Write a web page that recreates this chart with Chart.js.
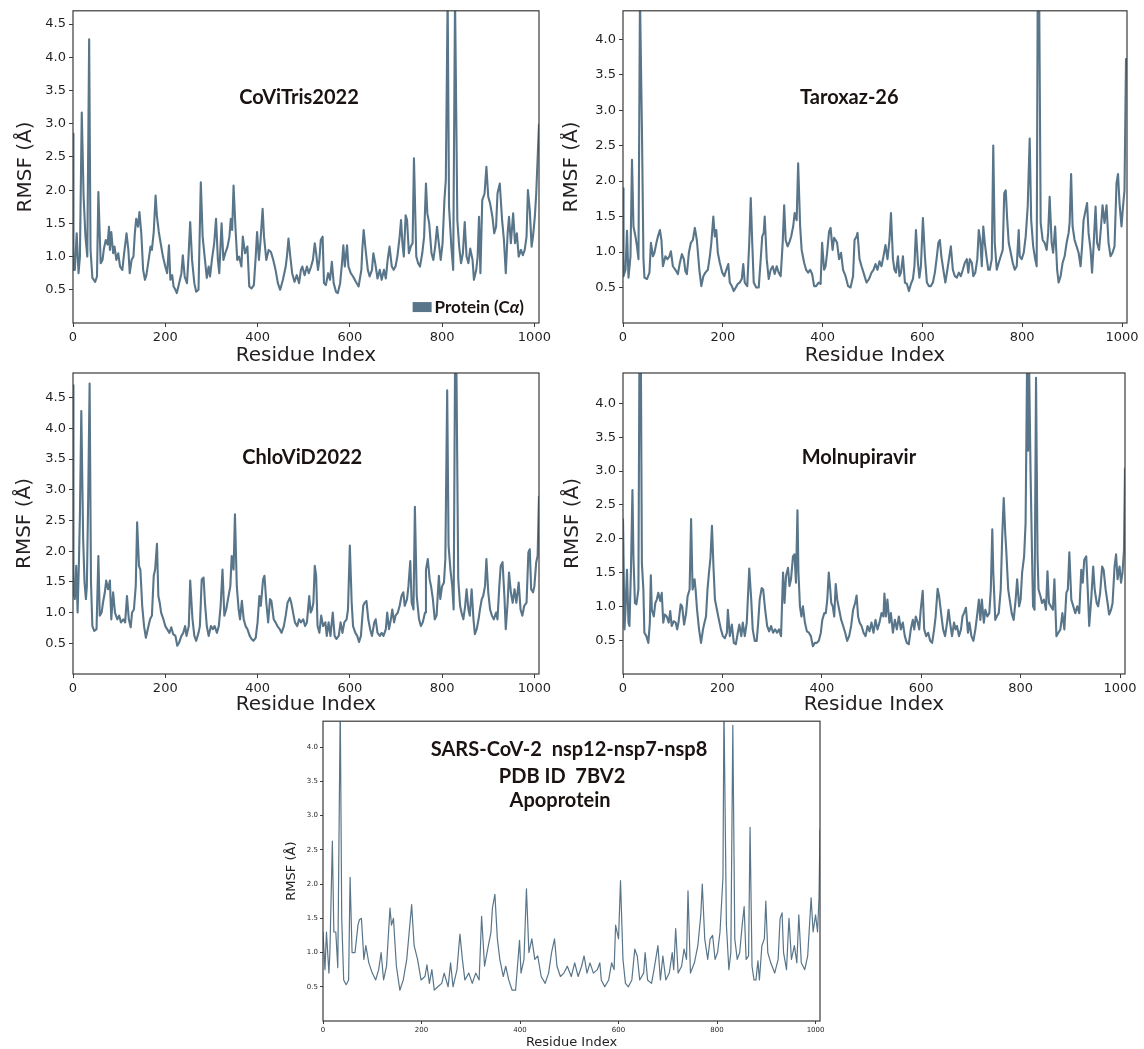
<!DOCTYPE html>
<html>
<head>
<meta charset="utf-8">
<script src="https://cdn.jsdelivr.net/npm/chart.js@4.4.0/dist/chart.umd.min.js"></script>
<style>
  body { margin: 0; background: #fff; }
  #wrap { position: relative; width: 1144px; height: 1049px; overflow: hidden; }
  canvas { position: absolute; }
</style>
</head>
<body>
<div id="wrap">
  <canvas id="c1" width="560" height="368" style="left:0;top:0"></canvas>
  <canvas id="c2" width="584" height="368" style="left:560px;top:0"></canvas>
  <canvas id="c3" width="560" height="355" style="left:0;top:362px"></canvas>
  <canvas id="c4" width="584" height="355" style="left:560px;top:362px"></canvas>
  <canvas id="c5" width="560" height="334" style="left:280px;top:715px"></canvas>
</div>
<script>
var xTicks = [0, 200, 400, 600, 800, 1000];
var yTicks = [0.5, 1.0, 1.5, 2.0, 2.5, 3.0, 3.5, 4.0, 4.5];

// RMSF per residue, [residue, RMSF in Angstrom]
var coviTris = [[0,2.85],[1,0.8],[4,0.8],[8,1.35],[12,0.75],[15,1.0],[19,3.17],[23,1.9],[27,1.3],[31,1.0],
  [35,4.27],[38,1.1],[42,0.68],[48,0.62],[52,0.7],[55,1.97],[60,0.9],[64,0.95],[67,1.12],[71,1.25],
  [75,1.18],[78,1.45],[80,1.1],[83,1.37],[87,1.05],[90,1.15],[94,0.95],[98,1.05],[102,0.85],[107,0.8],
  [110,1.0],[116,1.35],[120,1.1],[123,0.75],[127,0.95],[131,1.0],[134,1.35],[137,1.57],[141,1.45],[144,1.67],
  [148,1.35],[152,0.8],[156,0.65],[159,0.72],[164,0.95],[168,1.15],[171,1.1],[175,1.37],[179,1.92],[182,1.6],
  [186,1.37],[190,1.2],[195,1.0],[200,0.85],[204,0.75],[208,1.17],[211,0.65],[215,0.72],[218,0.55],[222,0.5],
  [225,0.45],[230,0.6],[235,0.75],[238,1.02],[242,0.7],[247,0.6],[250,0.95],[254,1.52],[258,0.95],[263,0.6],
  [267,0.47],[272,0.5],[277,2.12],[281,1.3],[286,0.95],[290,0.68],[294,0.85],[297,0.7],[301,0.95],[306,1.2],
  [310,1.57],[314,0.95],[317,0.75],[322,1.5],[326,0.95],[330,1.05],[335,1.15],[339,1.3],[342,1.57],[345,1.4],
  [348,2.07],[352,1.45],[356,0.95],[360,1.0],[365,0.85],[368,1.3],[373,1.05],[378,1.15],[382,0.55],[387,0.52],
  [392,0.57],[396,1.0],[399,1.37],[403,0.95],[406,1.2],[411,1.72],[414,1.3],[419,0.95],[424,1.1],[429,1.07],
  [434,0.95],[439,0.8],[444,0.6],[449,0.5],[455,0.65],[461,0.85],[464,1.02],[467,1.27],[471,1.0],[475,0.75],
  [480,0.62],[485,0.72],[490,0.6],[494,0.8],[497,0.85],[502,0.72],[507,0.85],[511,0.75],[516,0.85],[520,0.95],
  [524,1.2],[527,1.05],[531,0.8],[534,0.95],[537,1.25],[541,1.3],[544,0.6],[548,0.57],[553,0.75],[557,0.65],
  [561,0.92],[565,0.6],[570,0.47],[574,0.45],[579,0.6],[583,0.9],[586,1.17],[589,0.85],[594,1.17],[597,0.85],
  [602,0.75],[607,0.7],[613,0.62],[619,0.55],[625,0.8],[627,1.1],[630,1.4],[635,1.05],[639,0.8],[643,0.7],
  [648,0.8],[651,1.05],[655,0.9],[660,0.67],[665,0.8],[669,0.65],[674,0.8],[678,0.67],[682,0.95],[686,1.15],
  [691,0.85],[695,0.8],[699,0.85],[703,1.0],[708,1.3],[711,1.55],[714,1.2],[717,1.0],[721,1.62],[724,1.55],
  [728,1.05],[732,1.15],[736,1.2],[739,2.48],[744,1.0],[748,0.9],[752,0.85],[757,1.05],[761,1.3],[765,2.1],
  [768,1.65],[772,1.5],[777,1.05],[781,0.95],[785,1.15],[789,1.45],[792,1.25],[797,0.95],[801,1.2],[805,1.85],
  [808,2.15],[812,4.9],[815,1.75],[820,1.15],[824,0.8],[828,4.9],[833,1.55],[837,1.15],[841,0.9],[845,1.05],
  [849,1.52],[853,1.0],[857,0.9],[861,1.12],[866,0.95],[869,0.65],[874,0.8],[877,1.0],[880,1.6],[883,0.75],
  [887,1.85],[892,1.95],[896,2.35],[900,1.9],[904,1.8],[909,1.6],[913,1.35],[917,1.45],[920,1.95],[925,2.1],
  [930,1.55],[934,1.25],[938,0.75],[942,1.35],[945,1.6],[949,1.2],[954,1.65],[958,1.2],[962,1.35],[966,1.0],
  [971,1.1],[975,1.02],[979,1.1],[983,1.3],[986,2.0],[990,1.7],[994,1.15],[997,1.3],[1001,1.6],[1004,1.95],
  [1010,3.0]];

var taroxaz = [[0,1.9],[1,0.66],[5,0.75],[8,1.3],[11,0.64],[15,0.94],[18,2.3],[21,1.36],[25,1.22],[28,1.08],
  [31,0.9],[34,4.6],[38,2.7],[41,0.9],[43,0.64],[48,0.62],[53,0.71],[56,1.13],[60,0.94],[63,0.99],
  [67,1.13],[70,1.22],[74,1.31],[77,1.17],[80,0.8],[85,0.94],[89,0.9],[93,0.94],[96,1.01],[100,0.8],
  [105,0.75],[110,0.69],[114,0.85],[118,0.97],[122,0.9],[125,0.73],[128,0.69],[132,0.99],[136,1.13],[140,1.17],
  [144,1.34],[148,1.17],[153,0.75],[157,0.52],[161,0.66],[165,0.71],[170,0.75],[174,0.94],[177,1.13],[181,1.5],
  [184,1.22],[187,1.31],[190,0.99],[194,0.85],[199,0.71],[203,0.66],[207,0.75],[211,0.83],[214,0.57],[218,0.52],
  [222,0.45],[226,0.5],[230,0.55],[234,0.57],[238,0.62],[241,0.83],[244,0.57],[249,0.52],[253,1.13],[256,1.76],
  [259,1.13],[262,0.57],[267,0.5],[272,0.5],[276,0.9],[279,1.22],[282,1.27],[284,1.5],[288,0.9],[292,0.62],
  [296,0.75],[300,0.8],[304,0.69],[308,0.8],[312,0.71],[316,0.66],[320,1.13],[323,1.66],[326,1.17],[330,1.08],
  [334,1.15],[337,1.22],[341,1.36],[344,1.55],[348,1.45],[351,2.25],[355,1.36],[358,1.03],[363,0.85],[367,0.75],
  [371,0.71],[375,0.75],[379,0.69],[383,0.52],[387,0.52],[392,0.57],[396,0.55],[399,1.13],[403,0.75],[406,0.8],
  [409,0.99],[413,1.29],[416,1.34],[420,1.03],[423,1.2],[426,1.17],[429,1.13],[433,0.9],[437,0.99],[441,0.75],
  [446,0.66],[451,0.52],[456,0.5],[461,0.66],[464,1.17],[468,1.22],[470,1.27],[474,0.9],[478,0.8],[482,0.71],
  [485,0.64],[488,0.57],[493,0.62],[498,0.71],[502,0.75],[506,0.83],[510,0.75],[514,0.87],[518,0.8],[522,0.94],
  [526,1.1],[530,0.9],[534,1.17],[537,1.55],[541,0.9],[544,0.75],[547,0.71],[551,0.94],[554,0.66],[557,0.71],
  [561,0.94],[565,0.57],[569,0.55],[573,0.45],[577,0.55],[581,0.62],[584,0.8],[587,1.31],[591,0.85],[594,0.64],
  [597,0.8],[601,1.48],[605,0.94],[609,0.57],[613,0.52],[617,0.52],[621,0.57],[625,0.71],[629,0.94],[632,1.13],
  [635,1.17],[638,0.94],[642,0.75],[646,0.57],[650,0.75],[654,0.94],[657,1.08],[661,0.75],[665,0.66],[669,0.64],
  [673,0.71],[677,0.66],[681,0.75],[685,0.85],[689,0.9],[692,0.71],[695,0.9],[699,0.85],[702,0.66],[706,0.71],
  [710,0.9],[713,1.31],[716,1.17],[719,0.8],[722,1.36],[725,1.13],[729,0.9],[732,0.75],[735,0.75],[739,0.9],
  [742,2.5],[745,1.13],[749,0.75],[753,0.85],[757,0.94],[761,1.03],[764,1.83],[767,1.87],[770,1.45],[773,1.13],
  [777,0.99],[781,0.85],[785,0.75],[789,0.8],[793,1.31],[795,0.94],[799,0.9],[803,0.99],[807,1.22],[811,1.64],
  [815,2.6],[818,1.45],[822,1.08],[826,0.9],[829,0.8],[831,4.6],[834,4.6],[837,1.41],[841,1.17],[845,1.13],
  [849,1.03],[852,1.27],[855,1.78],[859,1.13],[862,0.99],[866,1.36],[870,0.75],[873,0.57],[877,0.66],[881,0.85],
  [885,0.94],[889,1.13],[893,1.27],[895,1.41],[898,2.1],[901,1.36],[905,1.17],[909,1.08],[913,0.99],[917,0.8],
  [920,1.08],[923,1.45],[927,1.59],[930,1.69],[933,1.27],[937,1.03],[940,0.71],[943,1.08],[947,1.64],[950,1.13],
  [954,1.03],[958,1.36],[961,1.66],[965,1.41],[969,1.66],[973,1.13],[977,0.94],[981,0.99],[985,1.08],[989,1.97],
  [992,2.1],[995,1.69],[999,1.36],[1002,1.64],[1005,1.87],[1008,3.72],[1010,3.72]];

var chloViD = [[0,4.7],[1,1.33],[4,1.22],[7,1.76],[10,1.0],[13,1.87],[15,2.6],[18,4.28],[22,2.2],[25,1.49],
  [28,1.22],[30,1.43],[33,2.9],[36,4.73],[39,1.49],[42,0.78],[46,0.7],[51,0.73],[55,1.92],[58,0.95],
  [62,1.0],[65,1.16],[69,1.33],[72,1.52],[76,1.38],[80,1.52],[83,0.89],[87,1.33],[91,1.0],[96,0.89],
  [100,0.95],[104,0.84],[109,0.89],[113,0.84],[117,1.27],[121,0.89],[125,0.76],[128,1.0],[132,1.05],[136,1.43],
  [139,2.47],[143,1.76],[146,1.7],[150,1.11],[154,0.78],[158,0.59],[162,0.73],[167,0.89],[171,0.95],[175,1.6],
  [178,1.7],[182,2.12],[185,1.27],[188,1.16],[191,1.0],[196,0.89],[200,0.78],[204,0.73],[209,0.67],[213,0.76],
  [217,0.65],[222,0.62],[226,0.46],[230,0.51],[235,0.62],[239,0.67],[243,0.78],[246,0.62],[251,0.78],[254,1.52],
  [259,0.89],[263,0.62],[267,0.54],[272,0.67],[275,0.78],[279,1.54],[283,1.57],[286,1.16],[290,0.78],[294,0.62],
  [299,0.78],[303,0.73],[307,0.78],[312,0.67],[316,0.78],[320,1.11],[324,1.7],[328,0.95],[332,1.05],[336,1.22],
  [341,1.43],[344,1.92],[348,1.7],[351,2.6],[355,1.43],[359,1.05],[362,0.89],[366,1.19],[370,0.89],[374,0.78],
  [378,0.73],[383,0.62],[387,0.57],[391,0.54],[396,0.59],[400,0.84],[404,1.27],[407,1.11],[412,1.54],[415,1.6],
  [419,1.16],[423,0.84],[427,1.22],[430,1.19],[435,0.89],[439,0.84],[443,0.78],[448,0.73],[452,0.67],[457,0.78],
  [461,0.95],[465,1.16],[470,1.24],[473,1.16],[477,1.0],[481,0.84],[486,0.78],[490,0.89],[494,0.84],[499,0.89],
  [503,0.78],[507,0.84],[512,1.27],[515,1.0],[518,1.05],[521,1.16],[524,1.76],[527,1.6],[530,0.78],[534,0.67],
  [538,0.95],[542,0.78],[547,0.84],[550,0.62],[554,0.84],[558,0.62],[563,1.0],[567,0.62],[571,0.57],[576,0.62],
  [580,0.84],[584,0.67],[588,0.84],[593,0.89],[596,1.05],[600,2.09],[604,1.16],[607,0.78],[612,0.67],[616,0.62],
  [620,0.52],[624,0.62],[629,1.11],[632,1.16],[636,1.19],[640,0.89],[644,0.73],[648,0.62],[653,0.84],[656,0.89],
  [660,0.67],[665,0.62],[669,0.67],[673,0.62],[678,0.73],[681,1.0],[685,0.73],[689,0.89],[692,1.05],[696,0.84],
  [699,0.95],[704,1.0],[708,1.11],[712,1.27],[716,1.33],[719,1.11],[724,1.22],[727,1.43],[731,1.84],[734,1.16],
  [738,1.05],[741,2.72],[745,1.27],[750,0.89],[754,0.78],[758,0.84],[763,1.0],[765,1.7],[769,1.87],[773,1.54],
  [776,1.43],[780,1.22],[784,0.89],[788,0.95],[793,1.6],[796,1.22],[800,1.43],[804,1.49],[807,1.87],[811,4.62],
  [814,2.09],[818,1.7],[822,1.43],[825,1.05],[828,5.0],[831,5.0],[835,1.54],[839,1.11],[842,1.0],[846,0.89],
  [850,1.11],[853,1.38],[857,1.05],[860,0.95],[864,1.38],[868,0.89],[871,0.65],[875,0.73],[879,0.89],[882,1.05],
  [886,1.22],[889,1.27],[893,1.43],[896,1.87],[900,1.33],[904,1.05],[908,0.95],[912,0.89],[917,1.0],[920,0.89],
  [924,1.43],[927,1.76],[931,1.82],[935,1.27],[938,0.73],[942,1.16],[945,1.65],[949,1.33],[953,1.16],[957,1.38],
  [961,1.16],[966,1.49],[970,1.05],[974,0.95],[978,1.11],[983,1.16],[987,1.98],[990,2.03],[993,1.38],[997,1.33],
  [1000,1.43],[1004,1.82],[1007,1.92],[1010,2.9]];

var molnupiravir = [[0,2.3],[3,0.66],[5,0.95],[8,1.54],[11,0.76],[13,0.71],[16,1.54],[19,2.72],[21,1.74],[24,1.05],
  [27,1.03],[31,1.25],[33,4.6],[36,4.6],[38,1.64],[41,1.25],[43,0.61],[47,0.56],[51,0.46],[54,0.76],
  [56,1.46],[58,0.95],[62,0.85],[65,1.05],[68,1.1],[71,1.2],[75,1.08],[78,1.2],[81,0.76],[84,0.88],
  [88,0.85],[92,0.76],[95,0.93],[98,0.71],[102,0.78],[106,0.76],[109,0.66],[112,0.78],[116,1.03],[119,1.0],
  [123,0.73],[127,0.9],[130,1.15],[134,1.25],[137,2.29],[140,1.25],[144,1.4],[146,1.25],[149,0.95],[153,0.66],
  [157,0.46],[161,0.66],[164,0.76],[167,0.85],[170,1.25],[173,1.5],[176,1.72],[179,2.19],[182,1.59],[185,1.1],
  [189,0.95],[193,0.8],[197,0.66],[201,0.56],[205,0.53],[209,0.61],[211,0.95],[215,0.56],[219,0.73],[223,0.46],
  [227,0.44],[231,0.61],[234,0.73],[238,0.56],[241,0.76],[245,0.56],[249,0.76],[254,1.56],[258,1.1],[261,0.66],
  [265,0.49],[269,0.49],[272,0.76],[275,1.1],[279,1.27],[282,1.25],[286,0.95],[290,0.71],[294,0.63],[298,0.71],
  [302,0.61],[306,0.66],[310,0.61],[314,0.66],[318,0.56],[322,1.5],[325,1.05],[328,1.45],[332,1.57],[335,1.3],
  [338,1.4],[342,1.74],[345,1.77],[348,1.35],[351,2.42],[353,1.5],[356,1.0],[359,0.85],[362,1.0],[366,0.76],
  [370,0.63],[374,0.61],[378,0.56],[382,0.41],[386,0.46],[390,0.46],[394,0.49],[398,0.61],[401,0.8],[405,0.9],
  [408,0.9],[411,1.1],[414,1.5],[417,1.25],[419,1.05],[422,1.0],[425,0.85],[428,1.33],[431,1.1],[435,0.95],
  [439,0.8],[443,0.71],[447,0.61],[451,0.49],[455,0.56],[459,0.71],[463,0.95],[467,1.05],[470,1.16],[473,0.85],
  [476,0.76],[480,0.71],[484,0.61],[488,0.56],[492,0.71],[496,0.63],[500,0.76],[504,0.61],[508,0.8],[512,0.66],
  [516,0.76],[520,0.9],[524,0.85],[526,1.19],[529,0.85],[532,1.1],[536,0.76],[539,0.9],[543,0.61],[547,0.8],
  [551,0.66],[555,0.85],[559,0.66],[563,0.76],[567,0.56],[571,0.46],[575,0.44],[579,0.66],[583,0.8],[586,0.66],
  [589,0.85],[593,0.76],[596,0.66],[599,0.95],[603,1.23],[606,0.66],[610,0.56],[614,0.61],[618,0.49],[622,0.46],
  [626,0.66],[629,0.85],[633,1.26],[636,1.15],[640,0.9],[644,0.66],[648,0.56],[652,0.76],[655,0.95],[658,0.76],
  [662,0.56],[666,0.76],[669,0.66],[672,0.71],[676,0.56],[680,0.66],[683,0.85],[686,0.9],[690,0.98],[694,0.61],
  [697,0.76],[701,0.56],[705,0.49],[709,0.66],[713,0.9],[716,1.1],[719,0.8],[722,1.1],[726,0.76],[729,0.95],
  [733,0.85],[737,0.9],[740,1.25],[743,2.14],[745,1.5],[749,0.8],[752,0.85],[756,0.9],[760,1.25],[763,2.04],
  [766,2.6],[769,2.09],[771,1.84],[775,1.25],[778,1.1],[782,0.9],[786,0.8],[790,1.1],[793,1.4],[797,1.0],
  [800,1.1],[803,1.5],[807,1.74],[810,2.23],[813,4.6],[815,3.3],[817,4.6],[820,2.98],[823,1.74],[825,1.0],
  [828,0.95],[831,4.38],[834,1.74],[836,1.25],[840,1.15],[843,1.05],[847,1.1],[851,0.95],[854,1.52],[857,1.05],
  [861,1.0],[865,0.95],[868,1.4],[872,0.56],[876,0.61],[880,0.66],[884,0.9],[888,0.66],[892,1.2],[895,1.25],
  [898,1.8],[902,1.1],[906,1.0],[910,0.9],[914,1.0],[918,0.9],[922,1.54],[925,1.35],[928,1.69],[932,1.74],
  [935,1.25],[938,0.71],[942,1.1],[946,1.59],[949,1.25],[953,1.05],[956,1.0],[960,1.2],[964,1.59],[967,1.54],
  [971,1.25],[975,1.05],[978,0.88],[982,0.95],[985,1.05],[989,1.59],[992,1.77],[995,1.4],[999,1.59],[1002,1.35],
  [1005,1.5],[1008,1.84],[1010,3.05]];

var apoprotein = [[0,1.3],[4,0.75],[7,1.3],[12,0.7],[14,1.0],[19,2.63],[22,1.3],[26,1.3],[30,0.78],[35,4.6],
  [38,1.5],[42,0.6],[47,0.53],[52,0.6],[55,2.1],[59,1.0],[65,1.0],[71,1.4],[74,1.48],[78,1.5],
  [83,0.9],[87,1.1],[93,0.85],[100,0.7],[107,0.6],[113,0.75],[118,1.0],[123,0.6],[129,0.8],[136,1.65],
  [139,1.4],[143,1.5],[149,0.8],[156,0.45],[163,0.6],[170,0.9],[175,1.3],[180,1.7],[185,1.1],[192,0.9],
  [199,0.6],[207,0.65],[211,0.82],[216,0.55],[221,0.75],[226,0.45],[233,0.5],[241,0.55],[246,0.7],[254,0.5],
  [259,0.85],[264,0.5],[272,0.75],[278,1.27],[283,0.9],[288,0.6],[296,0.7],[303,0.55],[310,0.7],[317,0.6],
  [322,1.53],[328,0.8],[333,1.0],[341,1.3],[344,1.65],[349,1.85],[354,1.2],[359,0.9],[366,0.65],[371,0.8],
  [377,0.6],[384,0.45],[391,0.45],[399,1.18],[402,0.7],[408,0.9],[413,1.93],[418,1.0],[424,1.2],[430,0.9],
  [436,0.95],[443,0.65],[451,0.55],[458,0.7],[464,1.0],[470,1.2],[475,0.8],[482,0.65],[489,0.7],[496,0.8],
  [504,0.65],[511,0.85],[518,0.65],[525,0.8],[530,0.95],[536,0.7],[542,0.85],[549,0.7],[557,0.75],[562,0.85],
  [565,0.6],[572,0.5],[580,0.6],[586,0.85],[591,0.75],[594,1.4],[600,1.2],[604,2.05],[609,0.9],[614,0.55],
  [620,0.5],[627,0.6],[633,1.05],[638,0.95],[643,0.6],[651,0.7],[654,1.0],[659,0.6],[667,0.55],[672,0.75],
  [680,1.1],[685,0.6],[690,0.95],[696,0.6],[703,0.7],[709,1.0],[712,0.75],[716,1.35],[721,0.7],[728,0.8],
  [733,1.05],[738,0.9],[741,1.9],[746,0.7],[754,0.85],[761,1.1],[767,1.55],[770,2.0],[775,1.2],[781,0.9],
  [786,1.2],[791,1.25],[796,0.9],[801,1.0],[806,1.3],[812,2.1],[814,4.6],[819,1.4],[824,0.75],[828,1.0],
  [832,4.32],[836,1.2],[841,0.9],[846,1.0],[851,1.4],[855,1.67],[859,0.9],[864,0.95],[867,2.83],[871,0.8],
  [875,0.6],[879,0.6],[883,0.88],[886,0.6],[891,1.1],[896,1.2],[899,1.75],[903,1.0],[909,0.85],[917,0.7],
  [924,0.9],[928,1.5],[932,1.58],[935,1.0],[941,0.75],[946,1.5],[951,0.9],[957,1.1],[962,0.85],[966,1.55],
  [971,0.85],[978,0.75],[984,0.95],[991,1.8],[995,1.3],[1000,1.55],[1004,1.3],[1007,1.8],[1009,2.8]];

var lineColor = '#587589';
var inkColor = '#1b1212';

// box round the plot, titles written inside it, and the one legend
var framePlugin = {
  id: 'frame',
  afterDatasetsDraw: function (chart, args, o) {
    var a = chart.chartArea, ctx = chart.ctx;
    var w = a.right - a.left, h = a.bottom - a.top;
    ctx.save();
    ctx.strokeStyle = '#3d3a3a';
    ctx.lineWidth = o.frameWidth;
    ctx.strokeRect(a.left, a.top, w, h);
    ctx.fillStyle = inkColor;
    ctx.font = 'bold ' + o.size + 'px Lato';
    ctx.textAlign = 'center';
    ctx.textBaseline = 'middle';
    o.lines.forEach(function (l) {
      ctx.fillText(l[0], a.left + l[1] * w, a.top + l[2] * h);
    });
    if (o.legend) {
      var lab = chart.data.datasets[0].label;
      var parts = lab.split('α');
      var tx = a.left + o.legend[0] * w, ty = a.top + o.legend[1] * h;
      ctx.fillStyle = lineColor;
      ctx.fillRect(tx - 22, ty - 5, 19, 10);
      ctx.fillStyle = inkColor;
      ctx.textAlign = 'left';
      ctx.font = 'bold 17px Lato';
      ctx.fillText(parts[0], tx, ty);
      var x2 = tx + ctx.measureText(parts[0]).width;
      ctx.font = 'italic bold 17px Lato';
      ctx.fillText('α', x2, ty);
      x2 += ctx.measureText('α').width;
      ctx.font = 'bold 17px Lato';
      ctx.fillText(parts[1], x2, ty);
    }
    ctx.restore();
  }
};

function panel(id, pts, c) {
  return new Chart(document.getElementById(id).getContext('2d'), {
    type: 'line',
    data: {
      datasets: [{
        label: c.label || '',
        data: pts.map(function (p) { return { x: p[0], y: p[1] }; }),
        borderColor: lineColor,
        borderWidth: c.lw,
        borderJoinStyle: 'round',
        pointRadius: 0,
        tension: 0,
        fill: false
      }]
    },
    options: {
      responsive: false,
      animation: false,
      events: [],
      layout: { padding: { top: c.top, right: c.right, bottom: 0, left: 0 } },
      plugins: {
        legend: { display: false },
        tooltip: { enabled: false },
        frame: { frameWidth: c.fw, size: c.titleSize, lines: c.lines, legend: c.legend || null }
      },
      scales: {
        x: {
          type: 'linear', min: 0, max: c.xMax,
          afterBuildTicks: function (s) { s.ticks = xTicks.map(function (v) { return { value: v }; }); },
          ticks: { autoSkip: false, maxRotation: 0, color: '#231f20', padding: c.tp,
                   font: { family: 'DejaVu Sans', size: c.tick },
                   callback: function (v) { return String(v); } },
          grid: { drawOnChartArea: false, tickLength: c.tl, color: '#3d3a3a' },
          border: { display: false },
          title: { display: true, text: 'Residue Index', color: '#231f20',
                   font: { family: 'DejaVu Sans', size: c.axis, lineHeight: 1 },
                   padding: { top: 0, bottom: c.xtp } },
          afterFit: function (s) { s.height = c.xh; }
        },
        y: {
          type: 'linear', min: 0, max: c.yMax,
          afterBuildTicks: function (s) {
            s.ticks = yTicks.filter(function (v) { return v <= c.yMax; }).map(function (v) { return { value: v }; });
          },
          ticks: { autoSkip: false, color: '#231f20', padding: c.tp,
                   font: { family: 'DejaVu Sans', size: c.tick },
                   callback: function (v) { return v.toFixed(1); } },
          grid: { drawOnChartArea: false, tickLength: c.tl, color: '#3d3a3a' },
          border: { display: false },
          title: { display: true, text: 'RMSF (Å)', color: '#231f20',
                   font: { family: 'DejaVu Sans', size: c.axis, lineHeight: 1 },
                   padding: { top: c.ytp, bottom: 0 } },
          afterFit: function (s) { s.width = c.yw; }
        }
      }
    },
    plugins: [framePlugin]
  });
}

var big = { lw: 2.1, fw: 1.2, tick: 13, axis: 20, tl: 4, tp: 3, titleSize: 20, xtp: 2 };
function merge(a, b) { var r = {}; for (var k in a) r[k] = a[k]; for (var k2 in b) r[k2] = b[k2]; return r; }

panel('c1', coviTris, merge(big, { top: 10, right: 21, yw: 73, xh: 45, ytp: 16, xMax: 1010, yMax: 4.7,
  label: 'Protein (Cα)', lines: [['CoViTris2022', 0.485, 0.278]], legend: [0.776, 0.949] }));
panel('c2', taroxaz, merge(big, { top: 10, right: 17, yw: 63, xh: 45, ytp: 2, xMax: 1010, yMax: 4.4,
  lines: [['Taroxaz-26', 0.449, 0.278]] }));
panel('c3', chloViD, merge(big, { top: 11, right: 21, yw: 73, xh: 43, ytp: 15, xMax: 1010, yMax: 4.9,
  lines: [['ChloViD2022', 0.492, 0.28]] }));
panel('c4', molnupiravir, merge(big, { top: 11, right: 19, yw: 63, xh: 43, ytp: 3, xMax: 1010, yMax: 4.45,
  lines: [['Molnupiravir', 0.47, 0.28]] }));
panel('c5', apoprotein, { lw: 1.2, fw: 1.2, tick: 7, axis: 13, tl: 3, tp: 2, titleSize: 20, xtp: 0,
  top: 5, right: 20, yw: 43, xh: 28, ytp: 5.5, xMax: 1009, yMax: 4.38,
  lines: [['SARS-CoV-2  nsp12-nsp7-nsp8', 0.495, 0.093], ['PDB ID  7BV2', 0.481, 0.183], ['Apoprotein', 0.477, 0.266]] });
</script>
</body>
</html>
